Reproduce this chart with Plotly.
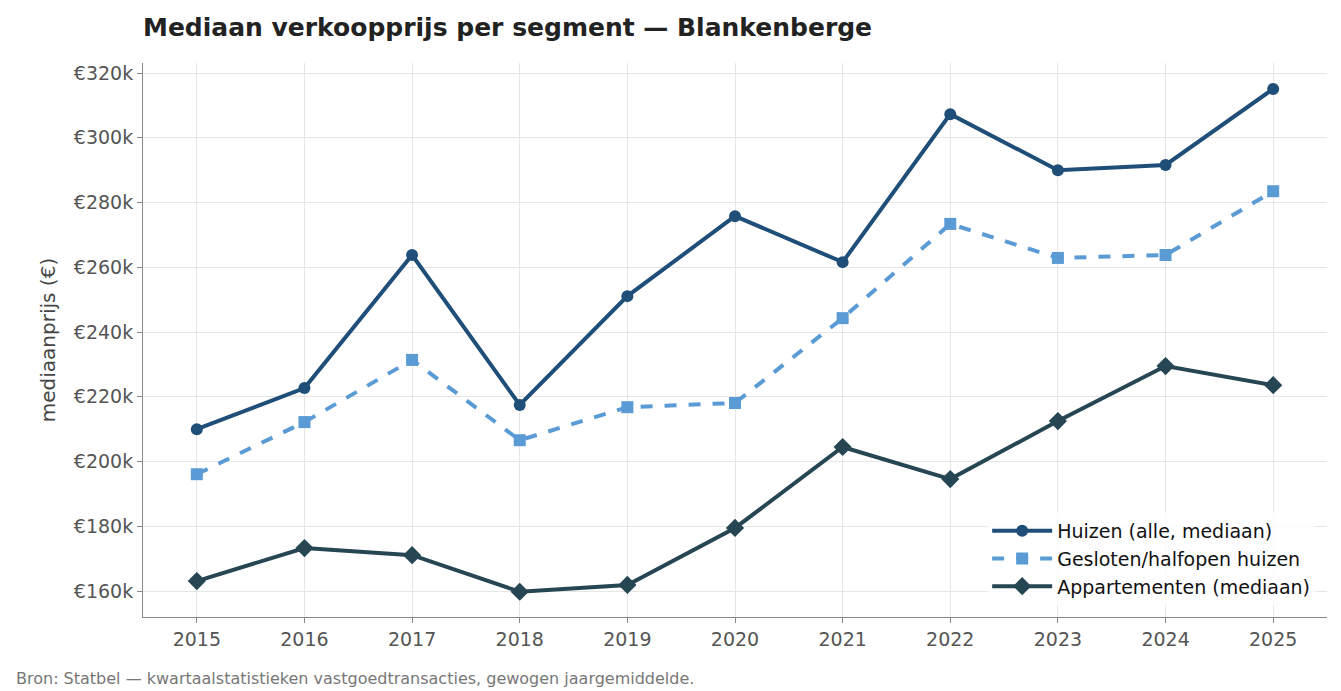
import plotly.graph_objects as go

years = list(range(2015, 2026))
huizen = [210.0, 222.7, 263.8, 217.5, 251.1, 275.8, 261.6, 307.3, 290.0, 291.6, 315.1]
gesloten = [196.1, 212.2, 231.4, 206.6, 216.8, 218.1, 244.3, 273.4, 262.9, 263.8, 283.5]
appart = [163.1, 173.3, 171.1, 159.8, 161.9, 179.5, 204.5, 194.6, 212.5, 229.5, 223.6]
yticks = [160, 180, 200, 220, 240, 260, 280, 300, 320]
ytick_labels = [f"€{v}k" for v in yticks]

L, R, T, B = 135, 22, 55, 82
pw = 1341 - L - R

fig = go.Figure()
fig.add_trace(go.Scatter(x=years, y=huizen, name="Huizen (alle, mediaan)", mode="lines+markers",
                         line=dict(color="#1f4e79", width=4), marker=dict(symbol="circle", size=12)))
fig.add_trace(go.Scatter(x=years, y=gesloten, name="Gesloten/halfopen huizen", mode="lines+markers",
                         line=dict(color="#5b9bd5", width=4, dash="dash"), marker=dict(symbol="square", size=12)))
fig.add_trace(go.Scatter(x=years, y=appart, name="Appartementen (mediaan)", mode="lines+markers",
                         line=dict(color="#264653", width=4), marker=dict(symbol="diamond", size=14)))

fig.update_layout(
    width=1341, height=691, plot_bgcolor="white", paper_bgcolor="white",
    margin=dict(l=L, r=R, t=T, b=B),
    font=dict(family="DejaVu Sans", size=19, color="#555"),
    title=dict(text="<b>Mediaan verkoopprijs per segment — Blankenberge</b>", x=L/1341, xanchor="left",
               y=1 - 19/691, yanchor="middle", font=dict(size=25, color="#222")),
    xaxis=dict(range=[2014.5, 2025.5], tickvals=years, showgrid=True, gridcolor="#e6e6e6",
               showline=True, linecolor="#888", ticks="outside", ticklen=5, tickcolor="#888", zeroline=False,
               automargin=False),
    yaxis=dict(range=[152.0, 323.1], tickvals=yticks, ticktext=ytick_labels, showgrid=True, gridcolor="#e6e6e6",
               showline=True, linecolor="#888", ticks="outside", ticklen=5, tickcolor="#888", zeroline=False,
               automargin=False, title=dict(text="mediaanprijs (€)", font=dict(size=20, color="#444"), standoff=12)),
    legend=dict(x=0.99, y=0.02, xanchor="right", yanchor="bottom", bgcolor="rgba(255,255,255,0.8)",
                font=dict(size=19, color="#111"), itemwidth=60),
    annotations=[dict(text="Bron: Statbel — kwartaalstatistieken vastgoedtransacties, gewogen jaargemiddelde.",
                      xref="paper", yref="paper", x=-(L - 6) / pw, y=-0.09, xanchor="left", yanchor="top",
                      showarrow=False, font=dict(size=16, color="#777"))],
)
fig.write_html("out.html")
